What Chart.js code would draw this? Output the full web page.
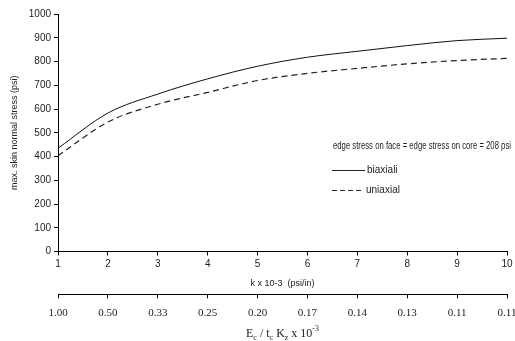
<!DOCTYPE html>
<html>
<head>
<meta charset="utf-8">
<script src="https://cdn.jsdelivr.net/npm/chart.js@4/dist/chart.umd.min.js"></script>
<style>
  body { margin: 0; background: #fff; }
  #wrap { width: 515px; height: 341px; }
</style>
</head>
<body>
<div id="wrap"><canvas id="stressChart" width="515" height="341"></canvas></div>
<script>
// data
const kValues = [1, 2, 3, 4, 5, 6, 7, 8, 9, 10];
const biaxialStress = [435, 583, 663, 727, 780, 818, 843, 867, 888, 898];
const uniaxialStress = [404, 545, 620, 670, 720, 750, 771, 790, 804, 813];
const ratioLabels = ["1.00", "0.50", "0.33", "0.25", "0.20", "0.17", "0.14", "0.13", "0.11", "0.11"];

const ctx = document.getElementById("stressChart").getContext("2d");
Chart.defaults.font.family = "'Liberation Sans', Arial, sans-serif";
Chart.defaults.color = "#222";

const toPoints = (ys) => kValues.map((k, i) => ({ x: k, y: ys[i] }));

// annotation text, legend and the second axis title (with subscripts)
const extrasPlugin = {
    id: "extras",
    afterDraw(chart) {
        const c = chart.ctx;
        c.save();
        c.fillStyle = "#222";
        c.strokeStyle = "#222";
        c.font = "10px 'Liberation Sans', Arial, sans-serif";
        c.textBaseline = "middle";
        c.textAlign = "left";
        c.fillText("edge stress on face = edge stress on core = 208 psi", 333, 146, 178);

        // legend
        c.lineWidth = 1;
        c.beginPath();
        c.moveTo(332, 170.5);
        c.lineTo(365, 170.5);
        c.stroke();
        c.fillText("biaxiali", 367, 170);

        c.setLineDash([5, 3]);
        c.beginPath();
        c.moveTo(332, 190.5);
        c.lineTo(364, 190.5);
        c.stroke();
        c.setLineDash([]);
        c.fillText("uniaxial", 366, 190);

        // E_c / t_c K_z x 10^-3
        const parts = [
            ["E", 0], ["c", 1], [" / t", 0], ["c", 1], [" K", 0], ["z", 1], [" x 10", 0], ["-3", -1]
        ];
        const big = "12px 'Liberation Serif', 'Times New Roman', serif";
        const small = "8px 'Liberation Serif', 'Times New Roman', serif";
        let total = 0;
        parts.forEach(([t, s]) => {
            c.font = s === 0 ? big : small;
            total += c.measureText(t).width;
        });
        const area = chart.chartArea;
        let x = (area.left + area.right) / 2 - total / 2;
        const base = 337;
        c.textBaseline = "alphabetic";
        parts.forEach(([t, s]) => {
            c.font = s === 0 ? big : small;
            const dy = s === 1 ? 3 : s === -1 ? -6 : 0;
            c.fillText(t, x, base + dy);
            x += c.measureText(t).width;
        });
        c.restore();
    },
};

new Chart(ctx, {
    type: "line",
    data: {
        datasets: [
            {
                label: "biaxiali",
                data: toPoints(biaxialStress),
                borderColor: "#111",
                borderWidth: 1,
                pointRadius: 0,
                cubicInterpolationMode: "monotone",
                fill: false,
            },
            {
                label: "uniaxial",
                data: toPoints(uniaxialStress),
                borderColor: "#222",
                borderWidth: 1.2,
                borderDash: [6, 4],
                pointRadius: 0,
                cubicInterpolationMode: "monotone",
                fill: false,
            },
        ],
    },
    options: {
        responsive: false,
        animation: false,
        layout: { padding: { top: 14, right: 0, bottom: 13, left: 0 } },
        plugins: {
            legend: { display: false },
            tooltip: { enabled: false },
        },
        scales: {
            x: {
                type: "linear",
                position: "bottom",
                min: 1,
                max: 10,
                ticks: { stepSize: 1, font: { size: 10, lineHeight: 1.4 }, padding: 2, color: "#222" },
                grid: { drawOnChartArea: false, drawTicks: true, tickLength: 4, color: "#000" },
                border: { color: "#000", width: 1 },
                title: {
                    display: true,
                    text: "k x 10-3  (psi/in)",
                    font: { size: 9 },
                    color: "#222",
                    padding: { top: 5, bottom: 5 },
                },
            },
            x2: {
                type: "linear",
                position: "bottom",
                min: 1,
                max: 10,
                ticks: {
                    stepSize: 1,
                    font: { size: 11, lineHeight: 2.7, family: "'Liberation Serif', 'Times New Roman', serif" },
                    padding: 0,
                    color: "#222",
                    callback: (v) => ratioLabels[Math.round(v) - 1],
                },
                grid: { drawOnChartArea: false, drawTicks: true, tickLength: 4, color: "#000" },
                border: { color: "#000", width: 1 },
                // let the last label run a little past the plot edge, as in the original
                afterFit: (scale) => {
                    scale.paddingRight = Math.min(scale.paddingRight, 8);
                },
            },
            y: {
                min: 0,
                max: 1000,
                ticks: {
                    stepSize: 100,
                    font: { size: 10 },
                    padding: 3,
                    color: "#222",
                    callback: (v) => String(v),
                },
                grid: { drawOnChartArea: false, drawTicks: true, tickLength: 4, color: "#000" },
                border: { color: "#000", width: 1 },
                title: {
                    display: true,
                    text: "max. skin normal stress (psi)",
                    font: { size: 9 },
                    color: "#222",
                    padding: { top: 9, bottom: 6 },
                },
            },
        },
    },
    plugins: [extrasPlugin],
});
</script>
</body>
</html>
